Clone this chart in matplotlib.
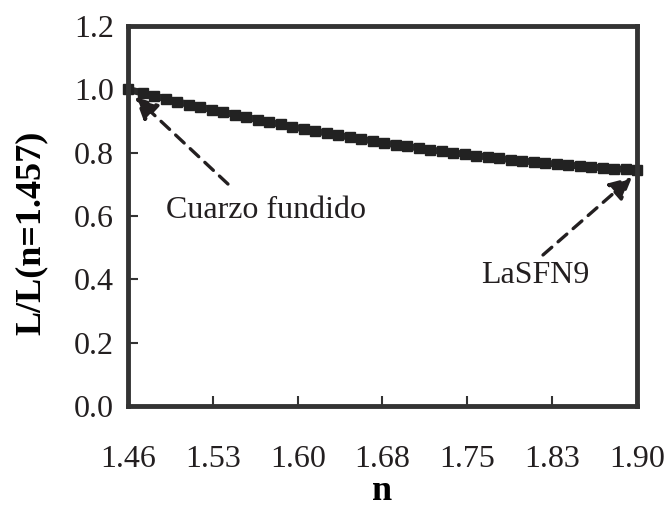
import numpy as np
import matplotlib.pyplot as plt

plt.rcParams.update({
    "font.family": ["Liberation Serif", "DejaVu Serif"],
    "font.size": 23,
    "text.color": "#231f20",
    "axes.edgecolor": "#333333",
    "xtick.color": "#333333",
    "ytick.color": "#333333",
    "xtick.labelcolor": "#231f20",
    "ytick.labelcolor": "#231f20",
})

# L/L(n=1.457) versus refractive index n
n = [1.457, 1.47, 1.48, 1.49, 1.50, 1.51, 1.52, 1.53, 1.54, 1.55, 1.56,
     1.57, 1.58, 1.59, 1.60, 1.61, 1.62, 1.63, 1.64, 1.65, 1.66, 1.67,
     1.68, 1.69, 1.70, 1.71, 1.72, 1.73, 1.74, 1.75, 1.76, 1.77, 1.78,
     1.79, 1.80, 1.81, 1.82, 1.83, 1.84, 1.85, 1.86, 1.87, 1.88, 1.89,
     1.90]
ratio = [1.000, 0.988, 0.979, 0.970, 0.961, 0.952, 0.944, 0.936, 0.928,
         0.920, 0.912, 0.904, 0.897, 0.889, 0.882, 0.875, 0.868, 0.862,
         0.855, 0.849, 0.843, 0.837, 0.831, 0.825, 0.820, 0.815, 0.809,
         0.804, 0.800, 0.795, 0.791, 0.786, 0.782, 0.778, 0.774, 0.771,
         0.767, 0.764, 0.761, 0.758, 0.755, 0.752, 0.750, 0.747, 0.745]

xticks = [1.457, 1.531, 1.605, 1.678, 1.752, 1.826, 1.900]
xticklabels = ["1.46", "1.53", "1.60", "1.68", "1.75", "1.83", "1.90"]
yticks = [0.0, 0.2, 0.4, 0.6, 0.8, 1.0, 1.2]

fig = plt.figure(figsize=(6.68, 5.08), dpi=100)
ax = fig.add_axes([0.1916, 0.2008, 0.762, 0.748])

ax.plot(n, ratio, color="#2b2b2b", lw=5, marker="s", ms=7,
        markerfacecolor="#222222", markeredgecolor="#222222", clip_on=False)

ax.set_xlim(1.457, 1.90)
ax.set_ylim(0.0, 1.2)
ax.set_xticks(xticks)
ax.set_xticklabels(xticklabels)
ax.set_yticks(yticks)
ax.set_yticklabels([f"{v:.1f}" for v in yticks])
ax.tick_params(direction="in", length=7, width=1.5, top=False, right=False)
ax.tick_params(axis="x", pad=28)
ax.tick_params(axis="y", pad=10)
for s in ax.spines.values():
    s.set_linewidth(3.5)

ax.set_xlabel("n", fontweight="bold", fontsize=26)
ax.xaxis.set_label_coords(0.5, -0.226)
ax.xaxis.label.set_va("center")
ax.set_ylabel("L/L(n=1.457)", fontweight="bold", fontsize=26)
ax.yaxis.set_label_coords(-0.19, 0.455)
ax.yaxis.label.set_va("center")

arrow = dict(arrowstyle="-|>", linestyle=(0, (3.5, 2.5)), lw=2.4,
             color="#231f20", mutation_scale=34, shrinkA=0, shrinkB=0)
ax.annotate("", xy=(1.4631, 0.976), xytext=(1.544, 0.701), arrowprops=arrow)
ax.text(1.5771, 0.594, "Cuarzo fundido", ha="center", va="baseline")
ax.annotate("", xy=(1.8957, 0.723), xytext=(1.8182, 0.477), arrowprops=arrow)
ax.text(1.7642, 0.388, "LaSFN9", ha="left", va="baseline")

fig.savefig("out.png", dpi=100)
